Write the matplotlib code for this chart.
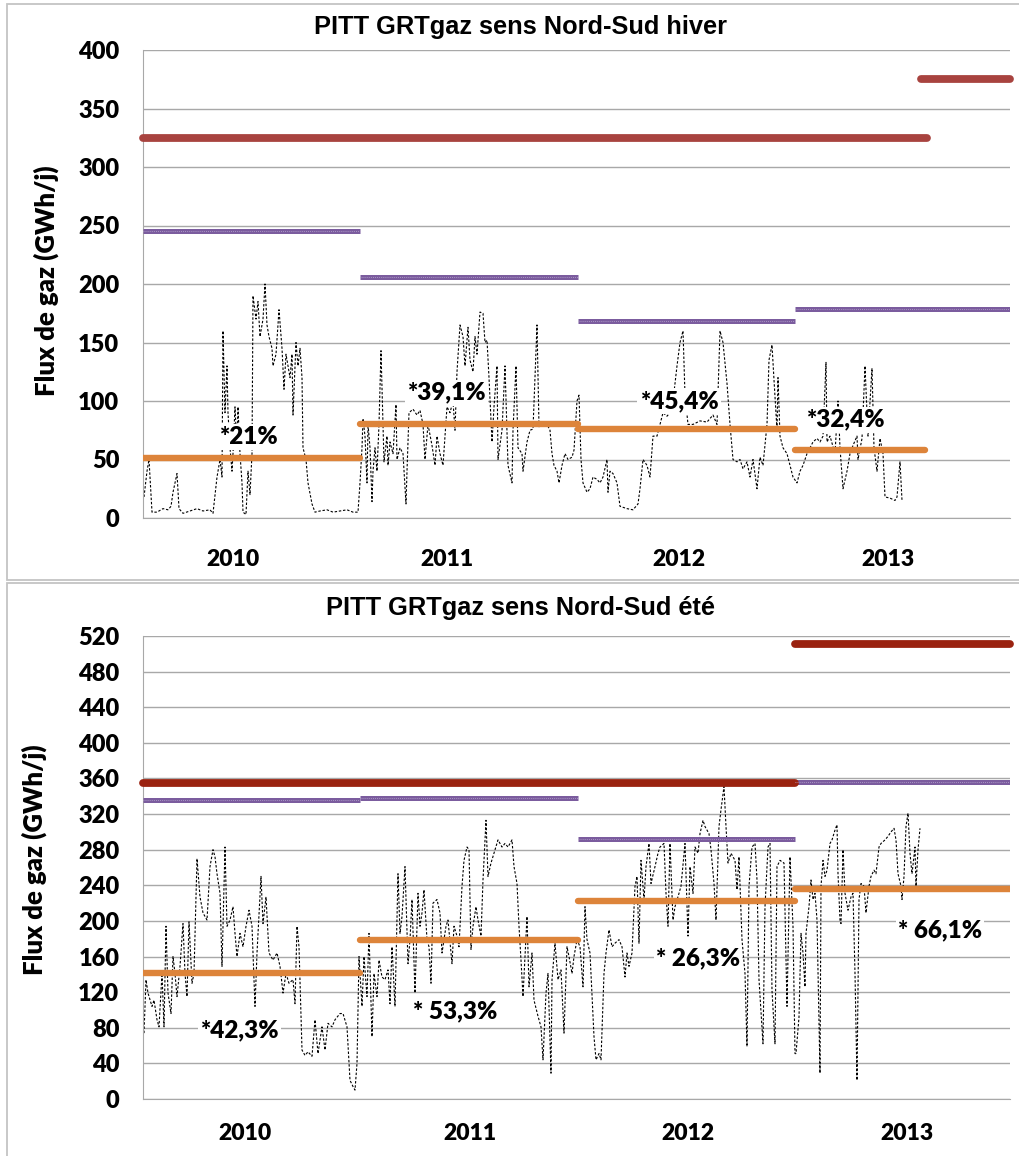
import matplotlib
matplotlib.use("Agg")
import matplotlib.pyplot as plt
from matplotlib.patches import Rectangle

# ---------------- DATA ----------------
years = ["2010", "2011", "2012", "2013"]
# season day index (0..867), season boundaries
season_bounds = [0, 217, 435, 652, 867]

# Winter (hiver) daily flow
hiver_t = [1, 4, 6, 9, 14, 20, 25, 28, 30, 34, 36, 40, 47, 54, 60, 67, 70, 74, 77, 79, 80, 82, 84, 85, 87, 89,
           90, 92, 94, 95, 97, 99, 100, 103, 105, 107, 109, 110, 113, 115, 117, 120, 122, 124, 126, 129, 130,
           133, 136, 139, 141, 143, 145, 147, 149, 150, 153, 155, 157, 159, 160, 163, 165, 169, 172, 177, 184,
           190, 197, 204, 210, 215, 217,
           219, 220, 222, 224, 225, 227, 229, 230, 232, 234, 236, 238, 240, 241, 244, 245, 247, 250, 253, 254,
           257, 260, 263, 264, 266, 270, 274, 277, 280, 282, 285, 289, 292, 294, 297, 300, 304, 307, 310, 312,
           314, 317, 320, 322, 325, 327, 330, 332, 334, 337, 340, 342, 344, 346, 349, 351, 354, 355, 359,
           362, 365, 369, 370, 373, 375, 379, 380, 384, 387, 390, 394, 396, 399, 404, 407, 409, 411, 414, 416,
           419, 422, 425, 429, 431, 434, 436, 438, 440, 444, 447, 450, 454, 457, 460, 464, 465, 467, 470, 474,
           477, 484, 490, 495, 497, 500, 504, 507, 510, 514, 520, 524, 527, 530, 534, 537, 540, 542, 545, 550,
           557, 564, 570, 574, 577, 580, 584, 587, 590, 594, 597, 600, 604, 607, 610, 614, 617, 620, 624, 626,
           629, 631, 634, 635, 637, 640, 644, 647, 650, 654, 657, 660, 664, 667, 670, 674, 677, 680, 683, 684,
           687, 692, 695, 697, 700, 704, 707, 710, 714, 715, 719, 722, 725, 729, 731, 734, 737, 740, 742, 747,
           752, 754, 757, 759]
hiver_v = [18, 40, 50, 5, 5, 8, 7, 10, 22, 38, 8, 4, 6, 8, 6, 7, 4, 35, 50, 35, 160, 90, 130, 90, 60, 40,
           55, 95, 60, 95, 55, 30, 5, 3, 40, 20, 55, 190, 170, 185, 155, 170, 200, 165, 155, 145, 130,
           140, 178, 145, 110, 140, 130, 120, 140, 88, 150, 130, 145, 120, 60, 50, 30, 12, 5, 6, 7,
           5, 6, 7, 5, 5, 30,
           60, 85, 70, 30, 80, 60, 14, 40, 60, 40, 80, 143, 80, 48, 70, 45, 65, 55, 97, 50,
           60, 55, 12, 40, 90, 93, 88, 92, 80, 50, 80, 62, 45, 70, 55, 45, 95, 90, 100, 75,
           125, 165, 155, 130, 163, 135, 125, 155, 140, 176, 175, 150, 152, 120, 65, 95, 130, 50, 75,
           130, 45, 30, 75, 130, 60, 55, 40, 65, 75, 76, 165, 78, 80, 80, 75, 55, 45, 40, 30,
           45, 55, 50, 52, 58, 100, 105, 50, 30, 22, 25, 35, 33, 30, 35, 50, 22, 40, 38, 30,
           10, 8, 7, 12, 25, 50, 45, 35, 70, 70, 90, 87, 90, 100, 130, 150, 160, 105, 80, 80,
           83, 82, 88, 80, 160, 150, 115, 80, 50, 48, 50, 42, 48, 35, 50, 25, 52, 45, 80, 135,
           148, 118, 75, 120, 70, 60, 55, 45, 35, 30, 40, 45, 55, 60, 65, 68, 65, 70, 133, 65,
           70, 55, 100, 60, 25, 40, 55, 62, 70, 50, 68, 130, 70, 128, 60, 40, 68, 55, 18, 17,
           15, 18, 48, 15]

# Summer (ete) daily flow
ete_t = [1, 3, 5, 9, 11, 14, 16, 19, 21, 23, 25, 28, 30, 32, 34, 37, 40, 42, 44, 46, 49, 51, 54, 57, 60,
         64, 67, 70, 72, 74, 77, 79, 82, 84, 87, 90, 92, 94, 97, 100, 103, 106, 109, 112, 114, 118, 120, 123,
         126, 130, 134, 137, 140, 143, 146, 150, 152, 154, 156, 159, 162, 165, 169, 172, 175, 179, 182, 185,
         189, 192, 197, 200, 204, 207, 210, 212, 214, 216,
         217, 219, 221, 224, 226, 229, 231, 234, 236, 239, 242, 245, 247, 249, 252, 255, 257, 259, 262, 265,
         267, 269, 272, 275, 277, 279, 281, 284, 286, 288, 290, 294, 297, 299, 303, 305, 309, 311, 314, 316,
         319, 321, 324, 326, 328, 330, 333, 335, 338, 340, 343, 345, 348, 351, 355, 359, 362, 365, 369, 371,
         374, 376, 378, 380, 384, 386, 389, 391, 395, 398, 400, 403, 405, 408, 409, 412, 415, 418, 421, 424,
         426, 429, 431, 434,
         437, 440, 442, 444, 447, 451, 453, 456, 458, 461, 463, 466, 469, 472, 476, 479, 482, 484, 486, 489,
         492, 494, 496, 498, 501, 503, 506, 508, 512, 515, 517, 521, 523, 525, 527, 530, 532, 536, 538, 542,
         545, 547, 550, 552, 555, 557, 560, 562, 566, 568, 571, 573, 576, 578, 581, 583, 585, 588, 592, 594,
         596, 599, 602, 604, 606, 609, 612, 614, 616, 620, 622, 625, 627, 629, 632, 634, 637, 641, 644, 647,
         650, 652,
         653, 656, 658, 660, 662, 663, 666, 668, 670, 672, 674, 677, 678, 680, 682, 684, 687, 689, 692, 694,
         695, 697, 698, 700, 702, 705, 708, 710, 712, 714, 716, 718, 721, 723, 726, 728, 731, 733, 736, 738,
         742, 745, 748, 751, 753, 755, 758, 759, 761, 763, 765, 767, 769, 772, 773, 775, 777]
ete_v = [74, 134, 119, 104, 111, 89, 81, 141, 81, 194, 119, 96, 160, 141, 115, 149, 197, 141, 115, 199, 130,
         141, 270, 227, 209, 201, 261, 280, 272, 253, 231, 149, 283, 194, 201, 216, 186, 160, 186, 171, 194,
         212, 194, 104, 164, 250, 197, 227, 164, 156, 164, 149, 119, 141, 130, 134, 107, 194, 171, 55, 49,
         53, 48, 89, 51, 81, 55, 85, 81, 89, 96, 96, 81, 21, 14, 10, 40, 160,
         141, 104, 160, 115, 186, 70, 141, 115, 156, 137, 134, 145, 107, 171, 104, 253, 186, 205, 261, 152,
         179, 224, 119, 231, 194, 209, 235, 179, 171, 130, 220, 224, 209, 164, 194, 201, 152, 194, 183, 171,
         239, 268, 283, 280, 168, 194, 216, 201, 183, 246, 313, 250, 265, 276, 291, 283, 287, 283, 291, 261,
         242, 194, 156, 115, 205, 126, 164, 111, 93, 81, 44, 119, 141, 29, 134, 175, 134, 145, 74, 171,
         160, 141, 160, 179,
         171, 126, 216, 179, 164, 70, 44, 51, 44, 141, 164, 190, 171, 175, 179, 171, 137, 164, 149, 164,
         239, 250, 175, 268, 224, 261, 287, 242, 261, 276, 283, 287, 231, 194, 287, 201, 216, 231, 239, 287,
         183, 261, 231, 283, 276, 298, 313, 306, 298, 280, 242, 201, 306, 325, 351, 306, 265, 276, 268, 235,
         272, 179, 141, 59, 239, 283, 287, 246, 134, 62, 216, 283, 287, 122, 62, 261, 268, 265, 104, 272,
         194, 51,
         51, 92, 186, 164, 126, 186, 216, 246, 224, 231, 201, 29, 239, 268, 250, 257, 287, 291, 302, 308,
         253, 201, 197, 280, 231, 212, 227, 231, 141, 21, 224, 242, 239, 209, 239, 250, 257, 253, 283, 287,
         291, 295, 300, 304, 291, 253, 239, 224, 250, 306, 321, 276, 253, 283, 239, 280, 304]

# Yearly averages (orange), firm capacity (purple), technical capacity (red)
hiver_moyenne = [51, 80, 76, 58]
hiver_moyenne_fin = [217, 435, 652, 782]
hiver_capa_souscrite = [245, 206, 168, 179]
hiver_capa_tech = [325, 375]
hiver_capa_tech_span = [(0, 784), (778, 867)]
hiver_pct = ["*21%", "*39,1%", "*45,4%", "*32,4%"]
hiver_pct_pos = [(105, 69), (303, 107), (536, 100), (702, 84)]

ete_moyenne = [141, 179, 222, 236]
ete_moyenne_fin = [217, 435, 652, 867]
ete_capa_souscrite = [336, 338, 292, 356]
ete_capa_tech = [355, 511]
ete_capa_tech_span = [(0, 652), (652, 867)]
ete_pct = ["*42,3%", "* 53,3%", "* 26,3%", "* 66,1%"]
ete_pct_pos = [(96, 77), (312, 98), (555, 158), (797, 190)]

hiver_year_tick = [90, 304, 536, 745]
ete_year_tick = [102, 327, 545, 764]

# ---------------- STYLE ----------------
ORANGE = "#DD843A"
PURPLE = "#7B5C9E"
RED_TOP = "#A8433F"
RED_BOT = "#9A2210"
GRID = "#A8A8A8"
FONT = "Lato"
WEIGHT = "heavy"

W, H = 1019, 1156
fig = plt.figure(figsize=(W / 100, H / 100), dpi=100)
fig.patch.set_facecolor("white")

# outer boxes
fig.add_artist(Rectangle((7 / W, 1 - 580 / H), (W - 6) / W, (576) / H, transform=fig.transFigure,
                         fill=False, edgecolor="#C4C4C4", lw=1.3))
fig.add_artist(Rectangle((7 / W, -0.01), (W - 6) / W, (1 - 583 / H) + 0.01, transform=fig.transFigure,
                         fill=False, edgecolor="#C4C4C4", lw=1.3))


def panel(rect, t, v, ymax, ystep, moy, moy_fin, souscrite, tech, tech_span, red, pct, pct_pos,
          ytick_pos, title, title_y, ylabel_xy, xpad):
    ax = fig.add_axes(rect)
    ax.set_xlim(season_bounds[0], season_bounds[-1])
    ax.set_ylim(0, ymax)
    ax.set_yticks(range(0, ymax + 1, ystep))
    ax.grid(axis="y", color=GRID, lw=1.0)
    ax.set_axisbelow(True)
    for s in ["top", "right"]:
        ax.spines[s].set_visible(False)
    ax.spines["left"].set_color(GRID)
    ax.spines["bottom"].set_color(GRID)
    ax.tick_params(axis="y", length=0, pad=17, labelsize=17)
    ax.tick_params(axis="x", length=0, pad=xpad, labelsize=16.5)
    ax.set_xticks(ytick_pos)
    ax.set_xticklabels(years)
    for lab in ax.get_xticklabels() + ax.get_yticklabels():
        lab.set_fontfamily(FONT)
        lab.set_fontweight(WEIGHT)

    ax.plot(t, v, color="black", lw=0.8, linestyle=(0, (2.2, 1.6)), zorder=2)

    starts = season_bounds[:-1]
    for i in range(4):
        ax.plot([starts[i], moy_fin[i]], [moy[i], moy[i]], color=ORANGE, lw=4.6,
                solid_capstyle="round", zorder=3)
        ax.plot([season_bounds[i], season_bounds[i + 1]], [souscrite[i], souscrite[i]], color=PURPLE,
                lw=3.6, solid_capstyle="butt", zorder=3)
        ax.plot([season_bounds[i], season_bounds[i + 1]], [souscrite[i], souscrite[i]], color="#B9A8D0",
                lw=0.6, linestyle=(0, (1, 1.5)), zorder=3.1)
    for val, (a, b) in zip(tech, tech_span):
        ax.plot([a, b], [val, val], color=red, lw=5.6, solid_capstyle="round", zorder=3, clip_on=False)

    for txt, (x, y) in zip(pct, pct_pos):
        ax.text(x, y, txt, ha="center", va="center", fontsize=17.5, fontweight=WEIGHT, family=FONT,
                zorder=5, bbox=dict(facecolor="white", edgecolor="none", pad=1.5))

    fig.text(ylabel_xy[0] / W, 1 - ylabel_xy[1] / H, "Flux de gaz (GWh/j)", rotation=90,
             ha="center", va="center", fontsize=18.5, fontweight=WEIGHT, family=FONT)
    fig.text(520 / W, 1 - title_y / H, title, ha="center", va="center", fontsize=18.3,
             fontweight="bold", family="Liberation Sans")
    return ax


top_rect = [143 / W, 1 - 518 / H, 867 / W, 468 / H]
bot_rect = [143 / W, 1 - 1099 / H, 867 / W, 463 / H]

panel(top_rect, hiver_t, hiver_v, 400, 50, hiver_moyenne, hiver_moyenne_fin, hiver_capa_souscrite,
      hiver_capa_tech, hiver_capa_tech_span, RED_TOP, hiver_pct, hiver_pct_pos, hiver_year_tick,
      "PITT GRTgaz sens Nord-Sud hiver", 27, (46, 281), 22)
panel(bot_rect, ete_t, ete_v, 520, 40, ete_moyenne, ete_moyenne_fin, ete_capa_souscrite,
      ete_capa_tech, ete_capa_tech_span, RED_BOT, ete_pct, ete_pct_pos, ete_year_tick,
      "PITT GRTgaz sens Nord-Sud été", 608, (34, 860), 17)

fig.savefig("out.png", dpi=100)
